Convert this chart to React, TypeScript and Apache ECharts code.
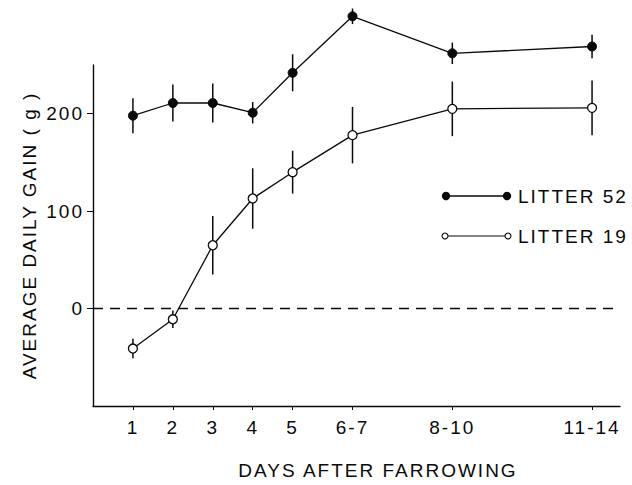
import React, { useEffect, useRef } from "react";
import * as echarts from "echarts";

const xPos = [1, 2, 3, 4, 5, 6.5, 9, 12.5];
const xLabels = ["1", "2", "3", "4", "5", "6-7", "8-10", "11-14"];
const litter52 = [198, 211, 211, 201, 242, 300, 262, 269];
const litter52Err = [18, 19, 20, 11, 19, 8, 11, 12];
const litter19 = [-41, -11, 65, 113, 140, 178, 205, 206];
const litter19Err = [10, 9, 30, 31, 22, 29, 28, 28];
const yTicks = [0, 100, 200];

const FONT = "Liberation Sans, Arial, sans-serif";
const INK = "#0a0a0a";
const FS = 19;

function errData(vals: number[], errs: number[]) {
  return vals.map((v, i) => [xPos[i], v - errs[i], v + errs[i]]);
}

function errSeries(name: string, vals: number[], errs: number[]) {
  return {
    type: "custom",
    name,
    z: 2,
    clip: false,
    data: errData(vals, errs),
    encode: { x: 0, y: [1, 2] },
    renderItem: (_p: any, api: any) => {
      const a = api.coord([api.value(0), api.value(1)]);
      const b = api.coord([api.value(0), api.value(2)]);
      return {
        type: "line",
        shape: { x1: a[0], y1: a[1], x2: b[0], y2: b[1] },
        style: { stroke: INK, lineWidth: 1.5 },
      };
    },
  };
}

export default function App() {
  const ref = useRef<HTMLDivElement>(null);
  useEffect(() => {
    if (!ref.current) return;
    const chart = echarts.init(ref.current, null, { renderer: "svg" });
    chart.setOption({
      animation: false,
      backgroundColor: "#fff",
      grid: { left: 93, right: 12, top: 65, bottom: 75 },
      xAxis: {
        type: "value",
        min: 0,
        max: 13.2,
        name: "DAYS AFTER FARROWING",
        nameLocation: "middle",
        nameGap: 55,
        nameTextStyle: { fontFamily: FONT, fontSize: FS, color: INK, padding: [0, 0, 0, 43] },
        splitLine: { show: false },
        axisLine: { onZero: false, lineStyle: { color: INK, width: 1.4 } },
        axisTick: { show: true, length: 4, customValues: xPos, lineStyle: { color: INK } },
        axisLabel: {
          customValues: xPos,
          margin: 12,
          fontFamily: FONT,
          fontSize: FS,
          color: INK,
          formatter: (v: number) => {
            const i = xPos.indexOf(v);
            return i >= 0 ? xLabels[i] : "";
          },
        },
      },
      yAxis: {
        type: "value",
        min: -100,
        max: 250,
        name: "AVERAGE DAILY GAIN ( g )",
        nameLocation: "middle",
        nameGap: 54,
        nameTextStyle: { fontFamily: FONT, fontSize: FS, color: INK },
        splitLine: { show: false },
        axisLine: { show: true, onZero: false, lineStyle: { color: INK, width: 1.4 } },
        axisTick: { show: true, length: 6, customValues: yTicks, lineStyle: { color: INK } },
        axisLabel: {
          customValues: yTicks,
          margin: 9,
          fontFamily: FONT,
          fontSize: FS,
          color: INK,
        },
      },
      series: [
        errSeries("err52", litter52, litter52Err),
        errSeries("err19", litter19, litter19Err),
        {
          type: "line",
          name: "LITTER 52",
          z: 3,
          clip: false,
          data: litter52.map((v, i) => [xPos[i], v]),
          symbol: "circle",
          symbolSize: 9,
          itemStyle: { color: INK, borderColor: INK, borderWidth: 1 },
          lineStyle: { color: INK, width: 1.3 },
        },
        {
          type: "line",
          name: "LITTER 19",
          z: 3,
          clip: false,
          data: litter19.map((v, i) => [xPos[i], v]),
          symbol: "circle",
          symbolSize: 9,
          itemStyle: { color: "#fff", borderColor: INK, borderWidth: 1.3 },
          lineStyle: { color: INK, width: 1.3 },
          markLine: {
            silent: true,
            symbol: ["none", "none"],
            label: { show: false },
            lineStyle: { color: INK, type: [10, 7], width: 1.3 },
            data: [{ yAxis: 0 }],
          },
        },
      ],
      graphic: [
        { type: "line", shape: { x1: 446, y1: 196, x2: 507, y2: 196 }, style: { stroke: INK, lineWidth: 1.4 } },
        { type: "circle", shape: { cx: 446, cy: 196, r: 4.2 }, style: { fill: INK } },
        { type: "circle", shape: { cx: 507, cy: 196, r: 4.2 }, style: { fill: INK } },
        { type: "text", x: 518, y: 196, style: { text: "LITTER 52", fontFamily: FONT, fontSize: FS, fill: INK, verticalAlign: "middle" } },
        { type: "line", shape: { x1: 448, y1: 236, x2: 505, y2: 236 }, style: { stroke: INK, lineWidth: 1.1 } },
        { type: "circle", shape: { cx: 445, cy: 236, r: 3 }, style: { fill: "#fff", stroke: INK, lineWidth: 1.1 } },
        { type: "circle", shape: { cx: 508, cy: 236, r: 3 }, style: { fill: "#fff", stroke: INK, lineWidth: 1.1 } },
        { type: "text", x: 518, y: 236, style: { text: "LITTER 19", fontFamily: FONT, fontSize: FS, fill: INK, verticalAlign: "middle" } },
      ],
    });
    return () => chart.dispose();
  }, []);
  return (
    <div
      ref={ref}
      style={{ width: 632, height: 485, position: "absolute", left: 0, top: 0, letterSpacing: "2px" }}
    />
  );
}
